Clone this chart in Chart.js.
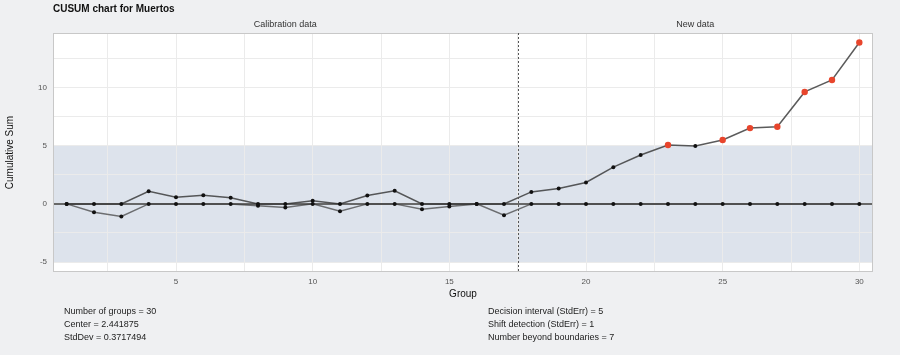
<!DOCTYPE html>
<html>
<head>
<meta charset="utf-8">
<script src="https://cdn.jsdelivr.net/npm/chart.js@4/dist/chart.umd.min.js"></script>
<style>
html,body{margin:0;padding:0;background:#eff0f2;}
#wrap{position:relative;width:900px;height:355px;}
canvas{display:block;}
</style>
</head>
<body>
<div id="wrap"><canvas id="c" width="900" height="355"></canvas></div>
<script>
const groups = [1,2,3,4,5,6,7,8,9,10,11,12,13,14,15,16,17,18,19,20,21,22,23,24,25,26,27,28,29,30];
const upperCusum = [0,0,0,1.09,0.57,0.75,0.52,0,0,0.26,0,0.72,1.12,0,0,0,0,1.03,1.32,1.84,3.16,4.20,5.06,4.97,5.49,6.52,6.64,9.63,10.66,13.88];
const lowerCusum = [0,-0.72,-1.09,0,0,0,0,-0.17,-0.32,0,-0.63,0,0,-0.46,-0.23,0,-0.98,0,0,0,0,0,0,0,0,0,0,0,0,0];
const decisionInterval = 5;
const calibrationEnd = 17;
const yTicks = [-5,-2.5,0,2.5,5,7.5,10,12.5];
const xTicks = [2.5,5,7.5,10,12.5,15,17.5,20,22.5,25,27.5,30];
const statsLeft = ["Number of groups = 30","Center = 2.441875","StdDev = 0.3717494"];
const statsRight = ["Decision interval (StdErr) = 5","Shift detection (StdErr) = 1","Number beyond boundaries = 7"];
const titleText = "CUSUM chart for Muertos";
const stripLabels = ["Calibration data","New data"];

const FONT = "'Liberation Sans', Arial, sans-serif";
const RED = '#e8452c';

function pts(arr){ return groups.map((g,i)=>({x:g,y:arr[i]})); }
function ptColor(arr){ return arr.map(v => Math.abs(v) > decisionInterval ? RED : '#111'); }
function ptRadius(arr){ return arr.map(v => Math.abs(v) > decisionInterval ? 3.2 : 2); }

const decor = {
  id:'decor',
  beforeDraw(chart){
    const {ctx, chartArea:a, scales:{x,y}} = chart;
    ctx.save();
    ctx.fillStyle = '#eff0f2';
    ctx.fillRect(0,0,chart.width,chart.height);
    ctx.fillStyle = '#ffffff';
    ctx.fillRect(a.left,a.top,a.right-a.left,a.bottom-a.top);
    const y1 = y.getPixelForValue(decisionInterval), y2 = y.getPixelForValue(-decisionInterval);
    ctx.fillStyle = '#dde3ec';
    ctx.fillRect(a.left,y1,a.right-a.left,y2-y1);
    ctx.restore();
  },
  afterDraw(chart){
    const {ctx, chartArea:a, scales:{x,y}} = chart;
    ctx.save();
    ctx.strokeStyle = '#c8c8c8'; ctx.lineWidth = 1;
    ctx.strokeRect(a.left+0.5,a.top+0.5,a.right-a.left-1,a.bottom-a.top-1);
    const xs = x.getPixelForValue(calibrationEnd+0.5);
    ctx.strokeStyle = '#555'; ctx.setLineDash([2,2]); ctx.lineWidth = 1;
    ctx.beginPath(); ctx.moveTo(Math.round(xs)+0.5,a.top); ctx.lineTo(Math.round(xs)+0.5,a.bottom); ctx.stroke();
    ctx.setLineDash([]);
    ctx.fillStyle = '#111';
    ctx.font = "bold 10px " + FONT;
    ctx.textBaseline = 'middle'; ctx.textAlign = 'left';
    ctx.fillText(titleText, 53, 9);
    ctx.font = "9px " + FONT; ctx.fillStyle = '#333'; ctx.textAlign = 'center';
    ctx.fillText(stripLabels[0], (a.left+xs)/2, 25);
    ctx.fillText(stripLabels[1], (xs+a.right)/2, 25);
    ctx.font = "9px " + FONT; ctx.fillStyle = '#222'; ctx.textAlign = 'left';
    statsLeft.forEach((t,i)=>ctx.fillText(t, 64, 312 + i*13));
    statsRight.forEach((t,i)=>ctx.fillText(t, 488, 312 + i*13));
    ctx.restore();
  },
  beforeDatasetsDraw(chart){
    const {ctx, chartArea:a, scales:{y}} = chart;
    const y0 = y.getPixelForValue(0);
    ctx.save();
    ctx.strokeStyle = 'rgba(90,90,90,0.9)'; ctx.lineWidth = 2;
    ctx.beginPath(); ctx.moveTo(a.left,y0); ctx.lineTo(a.right,y0); ctx.stroke();
    ctx.restore();
  }
};

new Chart(document.getElementById('c'), {
  type:'line',
  data:{
    datasets:[
      {label:'Upper', data:pts(upperCusum), borderColor:'rgba(50,50,50,0.8)', borderWidth:1.5,
       pointBackgroundColor:ptColor(upperCusum), pointBorderColor:ptColor(upperCusum), pointRadius:ptRadius(upperCusum), pointBorderWidth:0, tension:0},
      {label:'Lower', data:pts(lowerCusum), borderColor:'rgba(60,60,60,0.7)', borderWidth:1.5,
       pointBackgroundColor:ptColor(lowerCusum), pointBorderColor:ptColor(lowerCusum), pointRadius:ptRadius(lowerCusum), pointBorderWidth:0, tension:0}
    ]
  },
  options:{
    responsive:false, animation:false, devicePixelRatio:1,
    layout:{padding:{top:33,right:27,left:4,bottom:55}},
    plugins:{legend:{display:false}, tooltip:{enabled:false}, title:{display:false}},
    scales:{
      x:{type:'linear', min:0.5, max:30.5,
         afterBuildTicks(s){ s.ticks = xTicks.map(v=>({value:v})); },
         afterFit(s){ s.height = 28; },
         grid:{color:'#ebebeb', drawTicks:false},
         border:{display:false},
         ticks:{padding:5, maxRotation:0, autoSkip:false, font:{size:8, family:FONT}, color:'#555',
                callback:v => (v % 5 === 0 ? String(v) : '')},
         title:{display:true, text:'Group', font:{size:10, family:FONT}, color:'#111', padding:{top:0,bottom:0}}
      },
      y:{min:-5.86, max:14.7,
         afterBuildTicks(s){ s.ticks = yTicks.map(v=>({value:v})); },
         afterFit(s){ s.width = 49; },
         grid:{color:'#ebebeb', drawTicks:false},
         border:{display:false},
         ticks:{padding:6, autoSkip:false, font:{size:8, family:FONT}, color:'#555',
                callback:v => (v % 5 === 0 ? String(v) : '')},
         title:{display:true, text:'Cumulative Sum', font:{size:10, family:FONT}, color:'#111', padding:{top:0,bottom:6}}
      }
    }
  },
  plugins:[decor]
});
</script>
</body>
</html>
